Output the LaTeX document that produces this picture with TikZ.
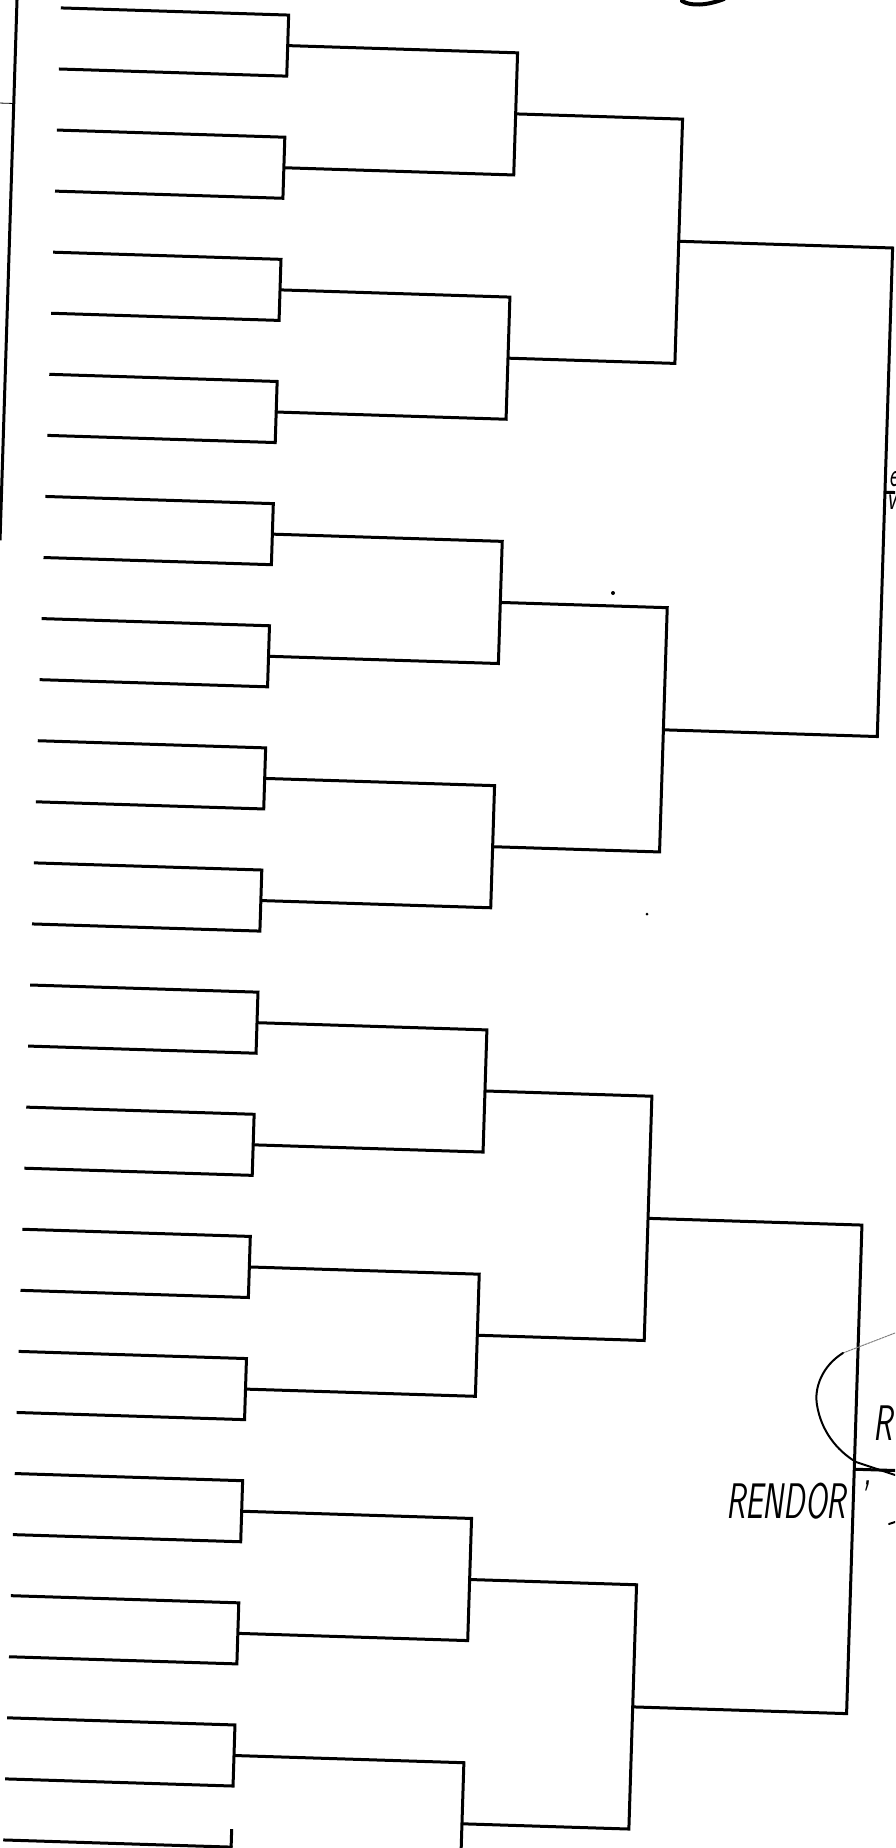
\documentclass[tikz,border=0pt]{standalone}
\usepackage{fontspec}
\newcommand\handfont{\sffamily\itshape}

\tikzset{
  bracket/.style={line width=3pt, line join=miter},
  pen/.style={line width=2pt, line cap=round},
  hand/.style={inner sep=0pt, font=\handfont\fontsize{50}{50}\selectfont, xscale=0.63},
  margin/.style={inner sep=0pt, font=\handfont\fontsize{34}{34}\selectfont, xscale=0.63},
}

\begin{document}
\begin{tikzpicture}[x=1pt, y=-1pt]
  \useasboundingbox (0,0) rectangle (895,1848);
  \clip (0,0) rectangle (895,1848);
  \fill[white] (0,0) rectangle (895,1848);

  \def\yzero{6}
  \def\slot{61.1}

  % the scanned sheet sits about 1.8 degrees off square
  \begin{scope}[rotate=-1.8]
    % margin rule of the sheet
    \draw[line width=3pt] (17,-20) -- (17,540);
    \draw[line width=0.8pt] (2,103) -- (17,103);

    % rounds: left end / right end / last match
    \foreach \k/\xa/\xb/\n in {1/61/289/15, 2/289/519/7, 3/519/686/3, 4/686/900/1} {
      \foreach \m in {0,...,\n} {
        \pgfmathsetmacro\w{2^(\k-1)}
        \pgfmathsetmacro\ya{\yzero+\slot*(2*\m*\w+(\w-1)/2)}
        \pgfmathsetmacro\yb{\ya+\slot*\w}
        \draw[bracket] (\xa,\ya) -- (\xb,\ya) -- (\xb,\yb) -- (\xa,\yb);
        \coordinate (r\k-\m) at (\xb,{(\ya+\yb)/2});
      }
    }

    % final
    \draw[bracket] (r4-0) -- ++(60,0);
    \draw[bracket] (r4-1) -- ++(60,0);

    % stub of the last match at the foot of the sheet
    \draw[bracket] (289,{\yzero+30*\slot}) -- ++(0,-18);
  \end{scope}

  % handwriting
  \draw[line width=4pt, line cap=round] (682,1) .. controls (690,6) and (706,6) .. (724,-1);
  \fill (613,593) circle (2);
  \fill (647,914) circle (1.5);

  \draw[pen, gray, densely dotted, line width=1pt] (895,1333) -- (843,1353);
  \draw[pen] (843,1353) .. controls (822,1366) and (814,1388) .. (817,1405)
    .. controls (821,1430) and (836,1450) .. (856,1462) -- (895,1475);

  \node[hand, anchor=base west] (rendor) at (726,1518) {RENDOR};
  \node[hand, anchor=north] (tick) at (864,1481) {'};
  \node[hand, anchor=base west] (name) at (873,1440) {R};
  \draw[pen] (889,1524) -- (895,1522);

  \node[margin, anchor=south west] (upper) at (889,487) {e};
  \node[margin, anchor=north west] (lower) at (887,495) {v};
\end{tikzpicture}
\end{document}
